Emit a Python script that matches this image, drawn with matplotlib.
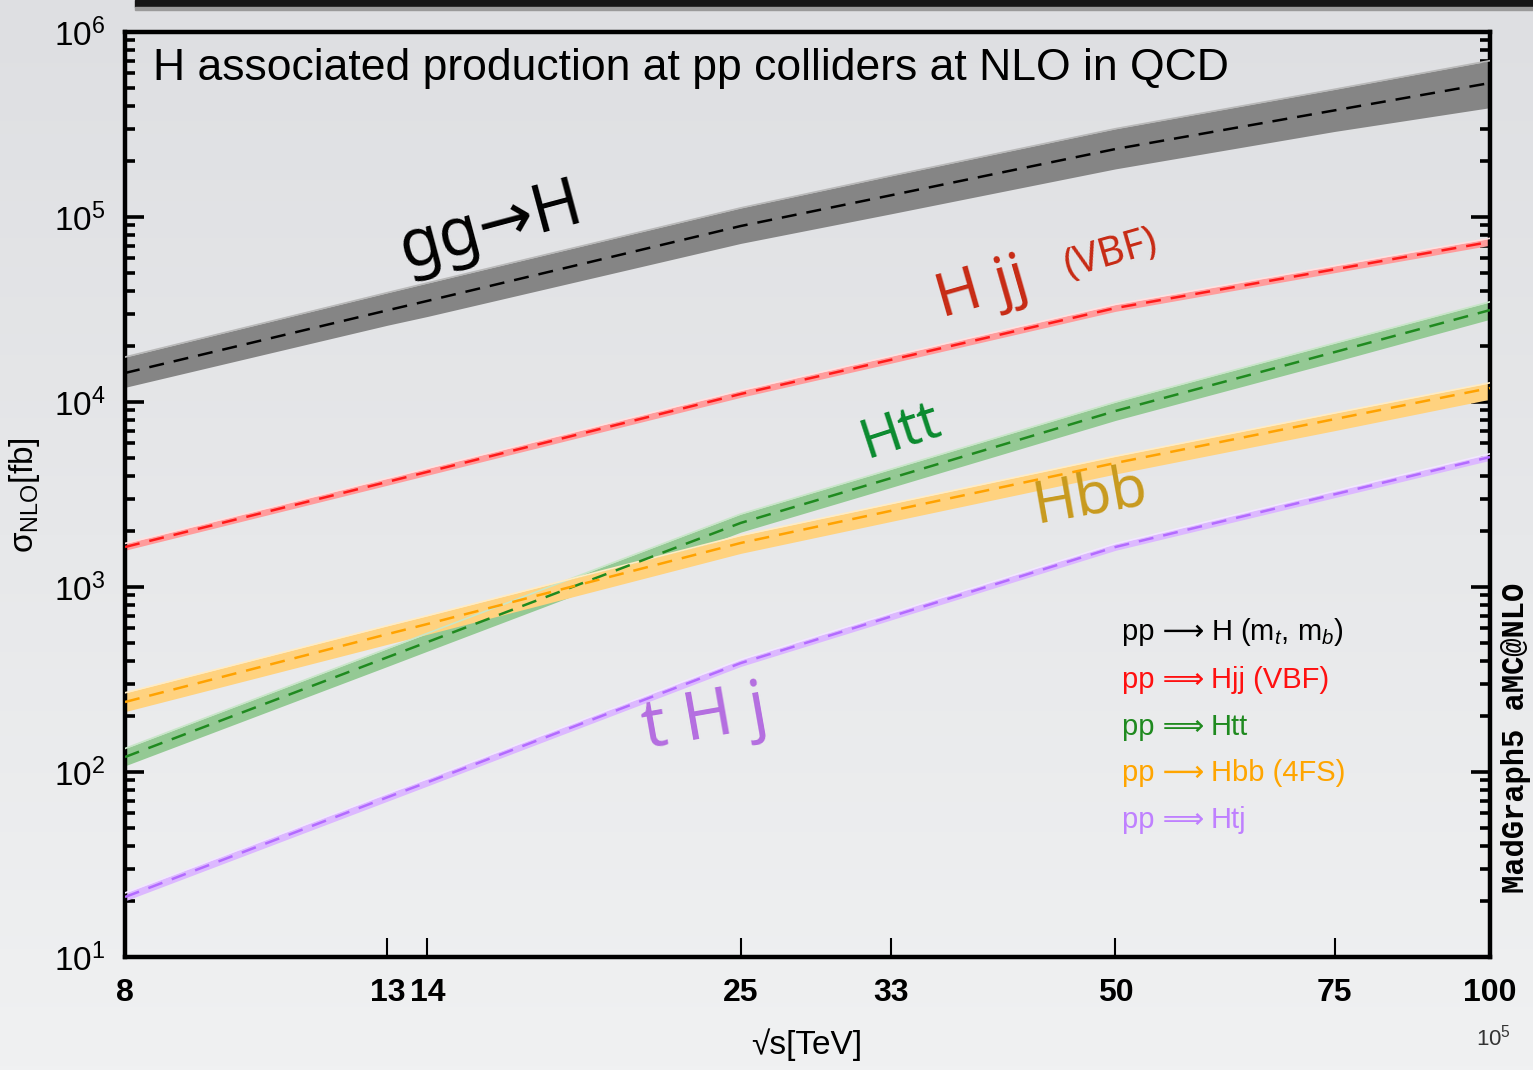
import numpy as np
import matplotlib
matplotlib.use("Agg")
import matplotlib.pyplot as plt
from matplotlib.ticker import NullLocator, FixedLocator, LogLocator, NullFormatter
from matplotlib.patches import Rectangle

plt.rcParams['font.family'] = ['Liberation Sans', 'DejaVu Sans']
plt.rcParams['mathtext.fontset'] = 'custom'
plt.rcParams['mathtext.rm'] = 'Liberation Sans'
plt.rcParams['mathtext.it'] = 'Liberation Sans:italic'
plt.rcParams['mathtext.bf'] = 'Liberation Sans:bold'

# collider energies [TeV]
energies = [8, 13, 14, 25, 33, 50, 75, 100]

# NLO cross sections [fb] (central, upper, lower)
ggh = [14350, 31300, 35200, 89400, 131000, 233000, 377000, 530000]
ggh_hi = [17500, 39000, 44000, 112000, 167000, 300000, 490000, 700000]
ggh_lo = [12000, 26000, 29000, 72000, 104000, 182000, 290000, 390000]

vbf = [1645, 3700, 4190, 11050, 16900, 32200, 52100, 73300]
vbf_hi = [1720, 3870, 4380, 11550, 17700, 33700, 54500, 76700]
vbf_lo = [1580, 3550, 4020, 10600, 16200, 30900, 50000, 70300]

tth = [120.5, 417, 504, 2220, 3875, 8940, 18600, 31400]
tth_hi = [134, 465, 562, 2480, 4330, 9990, 20800, 34800]
tth_lo = [108, 372, 450, 1980, 3450, 7950, 16500, 28000]

hbb = [239, 556, 631, 1730, 2580, 4680, 8080, 11900]
hbb_hi = [268, 618, 700, 1900, 2820, 5090, 8720, 12700]
hbb_lo = [212, 490, 555, 1520, 2260, 4080, 7000, 10350]

thj = [21.1, 73, 88, 388, 692, 1645, 3170, 5040]
thj_hi = [22.2, 76.5, 92, 405, 722, 1715, 3300, 5250]
thj_lo = [20.1, 69.5, 84, 372, 663, 1578, 3040, 4840]

xtick_labels = ['8', '13', '14', '25', '33', '50', '75', '100']

W, H = 1533, 1070
fig = plt.figure(figsize=(W / 100, H / 100), dpi=100)

# gradient background
bg = fig.add_axes([0, 0, 1, 1], zorder=-10)
grad = np.linspace(0, 1, 256).reshape(-1, 1)
top_c = np.array([222, 223, 226]) / 255
bot_c = np.array([240, 241, 242]) / 255
img = top_c[None, None, :] * (1 - grad[:, :, None]) + bot_c[None, None, :] * grad[:, :, None]
bg.imshow(img, aspect='auto', extent=[0, 1, 0, 1])
bg.axis('off')

# dark bar at the very top (slide frame)
fig.add_artist(Rectangle((135 / W, 1 - 7 / H), 1, 7 / H, transform=fig.transFigure,
                         color='#151515', zorder=5))
fig.add_artist(Rectangle((135 / W, 1 - 10 / H), 1, 3 / H, transform=fig.transFigure,
                         color='#9a9a9a', zorder=5))

ax = fig.add_axes([125 / W, 1 - 957 / H, (1490 - 125) / W, (957 - 32) / H])
ax.set_facecolor('none')
ax.set_xscale('log')
ax.set_yscale('log')
ax.set_xlim(8, 100)
ax.set_ylim(10, 1e6)

series = [
    (ggh, ggh_lo, ggh_hi, '#858585', '#b8b8b8', 'black'),
    (vbf, vbf_lo, vbf_hi, '#ff9c9c', '#ffe0e0', '#ff1a1a'),
    (tth, tth_lo, tth_hi, '#94c994', '#c8e6c8', '#1f8a1f'),
    (hbb, hbb_lo, hbb_hi, '#ffd27f', '#ffecc4', '#ffa200'),
    (thj, thj_lo, thj_hi, '#dcb8ff', '#f2e6ff', '#b36bff'),
]
for cen, lo, hi, fill_c, edge_c, line_c in series:
    ax.fill_between(energies, lo, hi, color=fill_c, lw=0, zorder=2)
    ax.plot(energies, hi, color=edge_c, lw=1.2, zorder=3)
    ax.plot(energies, cen, color=line_c, lw=1.8, ls=(0, (6, 4)), zorder=4)

# ticks
ax.xaxis.set_major_locator(FixedLocator(energies))
ax.xaxis.set_minor_locator(NullLocator())
ax.set_xticklabels(xtick_labels)
ax.yaxis.set_minor_locator(LogLocator(base=10, subs=np.arange(2, 10), numticks=20))
ax.yaxis.set_minor_formatter(NullFormatter())
ax.set_yticks([10, 100, 1e3, 1e4, 1e5, 1e6])
ax.set_yticklabels(['$10^{1}$', '$10^{2}$', '$10^{3}$', '$10^{4}$', '$10^{5}$', '$10^{6}$'])

ax.tick_params(axis='x', which='major', direction='in', length=14, width=1.5,
               pad=15, labelsize=23, top=False)
for lbl in ax.get_xticklabels():
    lbl.set_fontweight('bold')
ax.tick_params(axis='y', which='major', direction='in', length=14, width=2.6,
               pad=14, labelsize=24, left=True, right=True)
ax.tick_params(axis='y', which='minor', direction='in', length=7, width=2.6,
               left=True, right=True)
for sp in ax.spines.values():
    sp.set_linewidth(3.2)
    sp.set_color('black')

ax.text(0.0205, 0.961, 'H associated production at pp colliders at NLO in QCD',
        transform=ax.transAxes, fontsize=32, va='center', ha='left')

# hand-drawn style annotations
hand = ['Noto Sans', 'DejaVu Sans']
ax.text(0.268, 0.789, 'gg→H', transform=ax.transAxes, fontsize=48, rotation=15,
        ha='center', va='center', color='black', family=hand)
ax.text(0.628, 0.721, 'H jj', transform=ax.transAxes, fontsize=44, rotation=16,
        ha='center', va='center', color='#c72a14', family=hand, fontweight='bold')
ax.text(0.722, 0.759, '(VBF)', transform=ax.transAxes, fontsize=29, rotation=16,
        ha='center', va='center', color='#c72a14', family=hand, fontweight='bold')
ax.text(0.568, 0.568, 'Htt', transform=ax.transAxes, fontsize=40, rotation=18,
        ha='center', va='center', color='#0a8a2e', family=hand, fontweight='bold')
ax.text(0.707, 0.497, 'Hbb', transform=ax.transAxes, fontsize=42, rotation=10,
        ha='center', va='center', color='#c89a1e', family=hand, fontweight='bold')
ax.text(0.425, 0.257, 't H j', transform=ax.transAxes, fontsize=48, rotation=10,
        ha='center', va='center', color='#b46ee0', family=hand, fontweight='bold')

# legend text block
leg = [
    ('pp ⟶ ', 'H (m$_{t}$, m$_{b}$)', 'black', 632),
    ('pp ⟹ ', 'Hjj (VBF)', '#ff1010', 680),
    ('pp ⟹ ', 'Htt', '#1f8a1f', 727),
    ('pp ⟶ ', 'Hbb (4FS)', '#ffa500', 773),
    ('pp ⟹ ', 'Htj', '#bf80ff', 820),
]
for head, tail, c, ypx in leg:
    fig.text(1122 / W, 1 - ypx / H, head, color=c, fontsize=21, ha='left', va='center',
             family=['Liberation Sans', 'DejaVu Sans'])
    fig.text(1211 / W, 1 - ypx / H, tail, color=c, fontsize=21, ha='left', va='center')

fig.text(807 / W, 1 - 1045 / H, '√s[TeV]', fontsize=24, ha='center', va='center',
         family=['Liberation Sans', 'DejaVu Sans'])
fig.text(24 / W, 1 - 495 / H, 'σ$_{\\mathrm{NLO}}$[fb]', fontsize=24, ha='center',
         va='center', rotation=90)
fig.text(1493 / W, 1 - 1038 / H, '$10^{5}$', fontsize=16, ha='center', va='center',
         color='#333333')
fig.text(1516 / W, 1 - 738 / H, 'MadGraph5 aMC@NLO', fontsize=22, rotation=90,
         ha='center', va='center', family='Liberation Mono', fontweight='bold')

fig.savefig('out.png', dpi=100)
